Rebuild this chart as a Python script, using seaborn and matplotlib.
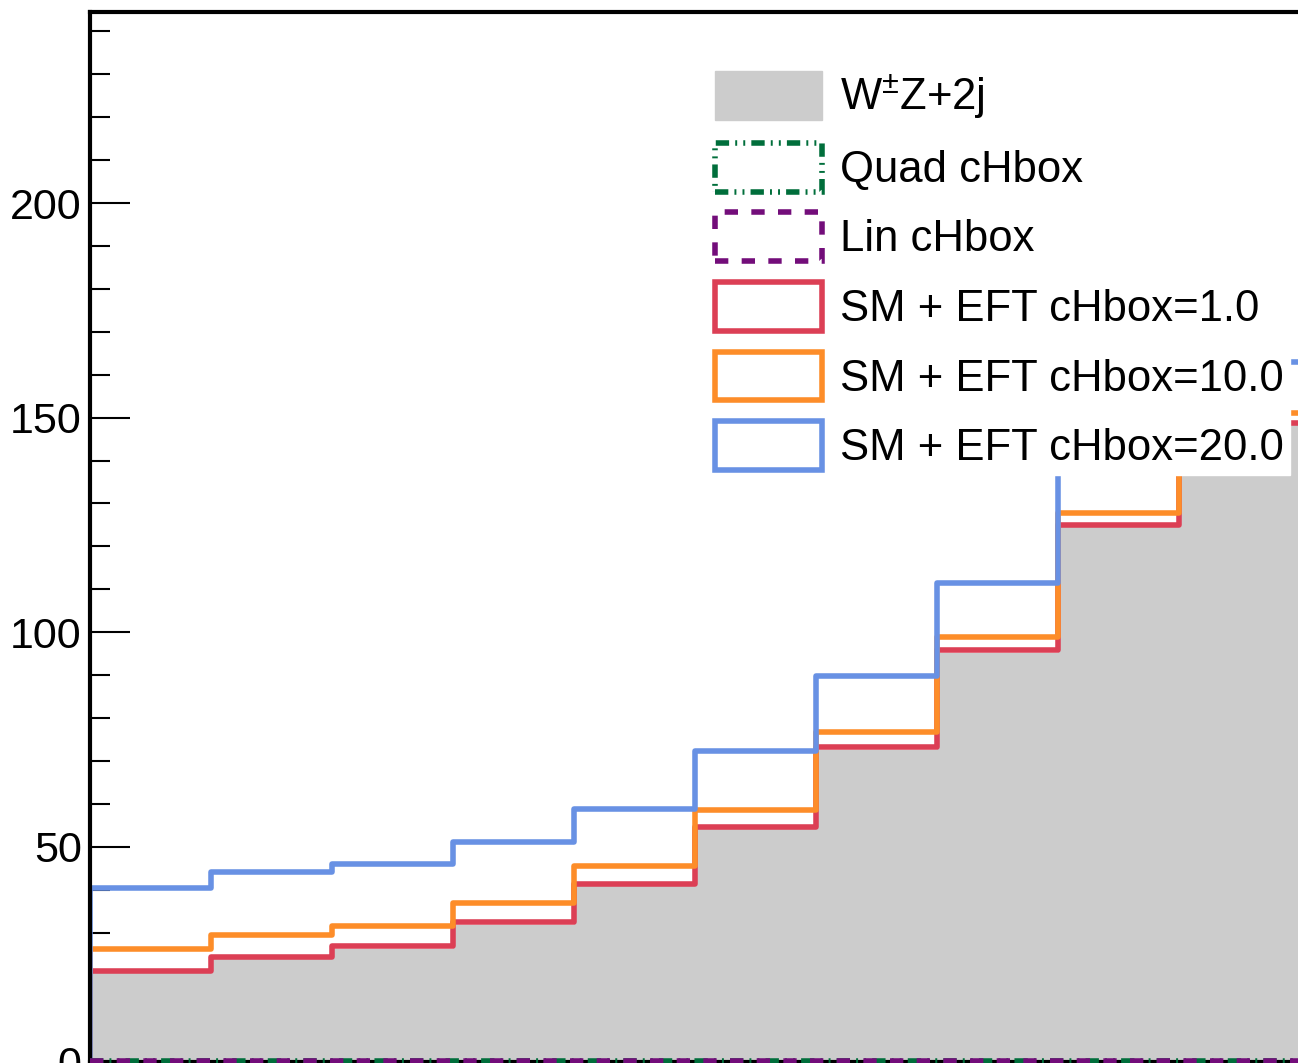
import numpy as np
import pandas as pd
import seaborn as sns
import matplotlib
matplotlib.use("Agg")
import matplotlib.pyplot as plt
from matplotlib.patches import Patch

# bin contents (10 bins over 0..pi)
edges = np.linspace(0, np.pi, 11)
wz_sm = [20.6, 23.8, 26.2, 31.8, 40.8, 54.1, 72.6, 95.2, 124.5, 148.2]
quad_chbox = [0.05, 0.05, 0.05, 0.05, 0.05, 0.05, 0.05, 0.05, 0.05, 0.05]
lin_chbox = [0.01, 0.01, 0.01, 0.01, 0.01, 0.01, 0.01, 0.01, 0.01, 0.01]
eft_1 = [21.2, 24.4, 26.8, 32.4, 41.4, 54.7, 73.2, 95.8, 125.1, 148.8]
eft_10 = [26.1, 29.5, 31.6, 36.9, 45.6, 58.7, 76.8, 98.9, 127.7, 151.1]
eft_20 = [40.4, 44.2, 46.1, 51.2, 58.9, 72.3, 89.9, 111.5, 140.0, 163.0]

labels = ["W$^{\\pm}$Z+2j", "Quad cHbox", "Lin cHbox",
          "SM + EFT cHbox=1.0", "SM + EFT cHbox=10.0", "SM + EFT cHbox=20.0"]

gray = "#cccccc"
green = "#006e3b"
purple = "#730d7a"
red = "#dc3f55"
orange = "#fd8d29"
blue = "#6891e4"

centers = 0.5 * (edges[:-1] + edges[1:])
binw = edges[1] - edges[0]
rng = (edges[0], edges[-1])

sns.set_style("ticks")
plt.rcParams['font.family'] = ['Liberation Sans', 'DejaVu Sans']
plt.rcParams['mathtext.fontset'] = 'custom'
plt.rcParams['mathtext.rm'] = 'Liberation Sans'
plt.rcParams['mathtext.it'] = 'Liberation Sans'
plt.rcParams['text.color'] = 'black'

W, H = 1298, 1063
fig = plt.figure(figsize=(W / 100, H / 100), dpi=100)
ax = fig.add_axes([90 / W, 1.5 / H, (1300 - 90) / W, (1061.5 - 12) / H])


def hist(vals, **kw):
    df = pd.DataFrame({"x": centers, "w": vals})
    sns.histplot(data=df, x="x", weights="w", binwidth=binw, binrange=rng,
                 element="step", ax=ax, **kw)


lw = 4.0
quad_ls = (0, (2.4, 1.1, 0.35, 1.1, 0.35, 1.1))
lin_ls = (0, (2.4, 2.4))
hist(wz_sm, fill=True, color=gray, alpha=1, linewidth=0)
hist(quad_chbox, fill=False, color=green, linewidth=lw, linestyle=quad_ls,
     clip_on=False, zorder=4)
hist(lin_chbox, fill=False, color=purple, linewidth=lw, linestyle=lin_ls,
     clip_on=False, zorder=4)
for vals, col in [(eft_1, red), (eft_10, orange), (eft_20, blue)]:
    hist(vals, fill=False, color=col, linewidth=lw)
    ax.vlines(edges[0], 0, vals[0], color=col, linewidth=lw)

ax.set_xlim(edges[0], edges[-1])
ax.set_ylim(0, 244.5)
ax.set_xlabel("")
ax.set_ylabel("")

ax.yaxis.set_major_locator(matplotlib.ticker.MultipleLocator(50))
ax.yaxis.set_minor_locator(matplotlib.ticker.MultipleLocator(10))
ax.xaxis.set_major_locator(matplotlib.ticker.MultipleLocator(0.5))
ax.xaxis.set_minor_locator(matplotlib.ticker.MultipleLocator(0.1))
ax.tick_params(axis='y', which='major', direction='in', length=28.8, width=1.5,
               labelsize=31, pad=6, color='black', labelcolor='black')
ax.tick_params(axis='y', which='minor', direction='in', length=14.4, width=1.5,
               color='black')
ax.tick_params(axis='x', which='major', direction='in', length=18.7, width=1.5,
               labelbottom=False, color='black')
ax.tick_params(axis='x', which='minor', direction='in', length=9.4, width=1.5,
               color='black')
for s in ax.spines.values():
    s.set_linewidth(3)
    s.set_color('black')

handles = [
    Patch(facecolor=gray, edgecolor=gray),
    Patch(facecolor='none', edgecolor=green, linewidth=lw, linestyle=quad_ls),
    Patch(facecolor='none', edgecolor=purple, linewidth=lw, linestyle=lin_ls),
    Patch(facecolor='none', edgecolor=red, linewidth=lw),
    Patch(facecolor='none', edgecolor=orange, linewidth=lw),
    Patch(facecolor='none', edgecolor=blue, linewidth=lw),
]
leg = ax.legend(handles, labels, loc="upper left",
                bbox_to_anchor=(710 / W, 1 - 66 / H), bbox_transform=fig.transFigure,
                fontsize=31.4, frameon=True, fancybox=False, framealpha=1,
                edgecolor='white', facecolor='white', borderpad=0.12, borderaxespad=0,
                handlelength=2.45, handleheight=1.34, handletextpad=0.42,
                labelspacing=0.48, labelcolor='black')
leg.set_zorder(10)

fig.savefig("out.png", dpi=100)
